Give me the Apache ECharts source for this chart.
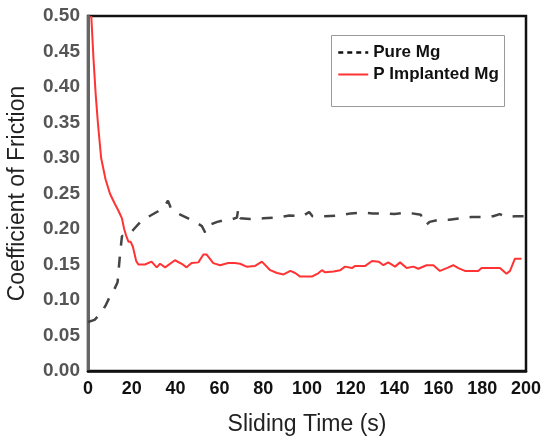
<!DOCTYPE html>
<html>
<head>
<meta charset="utf-8">
<script src="https://cdn.jsdelivr.net/npm/echarts@6/dist/echarts.min.js"></script>
<style>html,body{margin:0;padding:0;background:#fff}#c{width:553px;height:437px}</style>
</head>
<body>
<div id="c"></div>
<script>
// Pure Mg (dashed)
var timePure = [0,3,6,8,10,12,13.5,14.5,15.5,17,19,21,24,28,32,35,36.5,38,41,45,49,52,53.5,55,59,63,66,68,68.6,69.5,74,80,86,92,98,101,102.5,108,115,120,125,130,136,140,145,148,152,153,154.5,156,160,165,170,175,180,185,188,191,195,199];
var pureMg = [0.069,0.072,0.082,0.092,0.105,0.115,0.125,0.160,0.190,0.190,0.193,0.200,0.210,0.218,0.225,0.232,0.240,0.228,0.222,0.216,0.210,0.204,0.195,0.205,0.210,0.213,0.214,0.216,0.228,0.215,0.214,0.215,0.216,0.219,0.218,0.224,0.218,0.218,0.219,0.222,0.223,0.222,0.222,0.221,0.223,0.222,0.220,0.209,0.206,0.210,0.213,0.213,0.215,0.217,0.217,0.218,0.221,0.217,0.218,0.218];
// P Implanted Mg (red)
var timeP = [1.5,2.5,3.5,4.5,6,8,10,12,14,15.5,16.5,17.5,18.5,19.5,20.5,22,23,26,29,31.4,32.9,35.2,39.7,42.8,45,47.3,50.4,52.7,54.2,57.2,60.3,64,67,69.4,72.4,76.3,79.4,83.2,86.3,89.3,92.4,94.6,96.9,102.2,105.3,106.8,108.3,112.1,115.2,117.4,120.5,122,126.6,129.7,132.7,134.9,137.1,140.2,142.5,145.5,148.6,150.8,154.6,157.7,160.7,163.8,166.8,169.1,172.1,178.2,179.7,188.1,191.1,192.7,194.9,197.9];
var pImplanted = [0.50,0.44,0.39,0.35,0.30,0.27,0.25,0.237,0.225,0.215,0.200,0.190,0.182,0.182,0.175,0.155,0.150,0.150,0.154,0.146,0.151,0.146,0.156,0.151,0.146,0.152,0.153,0.164,0.164,0.152,0.149,0.152,0.152,0.151,0.147,0.148,0.154,0.142,0.138,0.136,0.141,0.138,0.133,0.133,0.138,0.142,0.139,0.140,0.142,0.147,0.145,0.148,0.148,0.155,0.154,0.149,0.153,0.147,0.153,0.145,0.147,0.144,0.149,0.149,0.141,0.145,0.149,0.145,0.141,0.141,0.145,0.145,0.137,0.141,0.158,0.158];
var yTicks = [0,0.05,0.10,0.15,0.20,0.25,0.30,0.35,0.40,0.45,0.50];
var xTicks = [0,20,40,60,80,100,120,140,160,180,200];

function pairs(xs, ys){ return xs.map(function(x,i){ return [x, ys[i]]; }); }

var chart = echarts.init(document.getElementById('c'), null, {renderer:'canvas'});
chart.setOption({
  animation: false,
  backgroundColor: '#fff',
  textStyle: {fontFamily: '"Liberation Sans", Arial, sans-serif'},
  grid: {left: 88, right: 27, top: 16, bottom: 66, outerBoundsMode: 'none', containLabel: false,
    show: true, borderColor: '#111', borderWidth: 2.5, backgroundColor: 'transparent'},
  legend: {
    left: 332, top: 39, orient: 'vertical', itemWidth: 30, itemHeight: 14, itemGap: 5,
    textStyle: {fontSize: 17, fontWeight: 'bold', color: '#111', fontFamily: '"Liberation Sans", Arial, sans-serif'},
    data: [
      {name: 'Pure Mg', itemStyle: {opacity: 0}, lineStyle: {type: [5, 4], width: 2.5, color: '#111'}},
      {name: 'P Implanted Mg', itemStyle: {opacity: 0}}
    ]
  },
  graphic: [{type: 'rect', left: 329, top: 33, shape: {width: 173, height: 71}, style: {fill: 'none', stroke: '#999', lineWidth: 1}, z: 10}],
  xAxis: {
    type: 'value', min: 0, max: 200, interval: 20,
    name: 'Sliding Time (s)', nameLocation: 'middle', nameGap: 42,
    nameTextStyle: {fontSize: 23, color: '#222'},
    axisLine: {show: true, lineStyle: {color: '#111', width: 2.5}},
    axisTick: {show: false},
    splitLine: {show: false},
    axisLabel: {fontSize: 18, fontWeight: 'bold', color: '#111', margin: 9,
      customValues: xTicks, formatter: function(v){ return String(v); }}
  },
  yAxis: {
    type: 'value', min: 0, max: 0.5, interval: 0.05,
    name: 'Coefficient of Friction', nameLocation: 'middle', nameGap: 59,
    nameTextStyle: {fontSize: 23, color: '#222'},
    axisLine: {show: true, lineStyle: {color: '#666', width: 3}},
    axisTick: {show: false},
    splitLine: {show: false},
    axisLabel: {fontSize: 19, fontWeight: 'bold', color: '#555', margin: 8,
      customValues: yTicks, formatter: function(v){ return v.toFixed(2); }}
  },
  series: [
    {name: 'Pure Mg', type: 'line', data: pairs(timePure, pureMg), symbol: 'none', smooth: false,
      lineStyle: {color: '#444', width: 2.5, type: [11, 11]}, itemStyle: {color: '#111'}},
    {name: 'P Implanted Mg', type: 'line', data: pairs(timeP, pImplanted), symbol: 'none', smooth: false,
      lineStyle: {color: '#ff3333', width: 2}, itemStyle: {color: '#ff3333'}}
  ]
});
</script>
</body>
</html>
